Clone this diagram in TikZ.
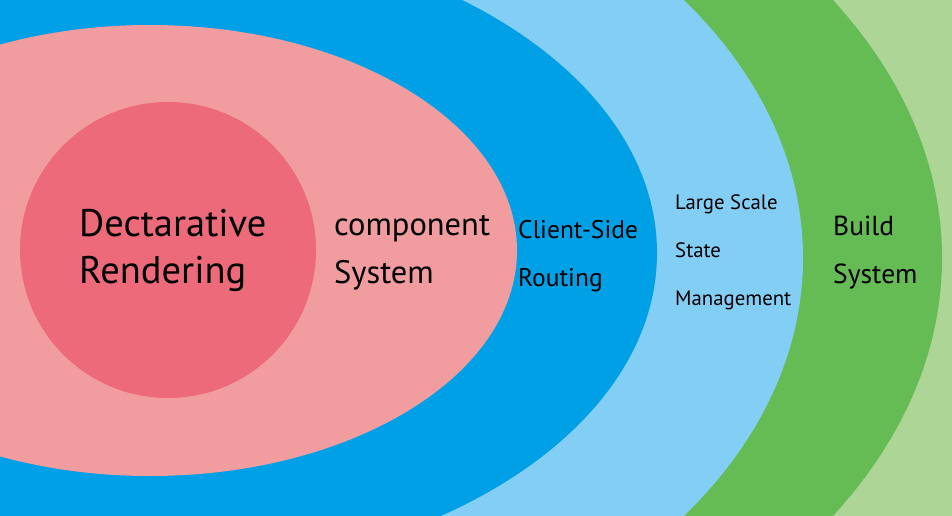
\documentclass[tikz,border=0pt]{standalone}
\usepackage{fontspec}
\setmainfont{PT Sans}
\definecolor{lgreen}{RGB}{173,213,150}
\definecolor{dgreen}{RGB}{101,187,84}
\definecolor{lblue}{RGB}{130,206,245}
\definecolor{dblue}{RGB}{0,160,230}
\definecolor{lpink}{RGB}{241,156,159}
\definecolor{dred}{RGB}{236,106,122}
\begin{document}
\begin{tikzpicture}[x=1pt,y=-1pt,
  lbl/.style={inner sep=0pt,anchor=base west,text=black},
  big/.style={lbl,font=\fontsize{38.5}{38.5}\selectfont},
  mid/.style={lbl,font=\fontsize{32.5}{32.5}\selectfont},
  sm/.style={lbl,font=\fontsize{25.5}{25.5}\selectfont},
  bld/.style={lbl,font=\fontsize{27.5}{27.5}\selectfont},
  tiny/.style={lbl,font=\fontsize{20.8}{20.8}\selectfont}]
\useasboundingbox (0,0) rectangle (952,516);
\clip (0,0) rectangle (952,516);
\fill[lgreen] (0,0) rectangle (952,516);
\fill[dgreen] (150,258) ellipse [x radius=792pt, y radius=509pt];
\fill[lblue] (150,258) ellipse [x radius=653pt, y radius=448pt];
\fill[dblue] (150,253) ellipse [x radius=507pt, y radius=321pt];
\fill[lpink] (150,250.5) ellipse [x radius=367pt, y radius=225.5pt];
\fill[dred] (168,250) circle [radius=148pt];
\node[big] (d1) at (79,236) {Dectarative};
\node[big] (d2) at (79,283) {Rendering};
\node[mid] (c1) at (334,235) {component};
\node[mid] (c2) at (334,283) {System};
\node[sm] (r1) at (518,238) {Client-Side};
\node[sm] (r2) at (518,286) {Routing};
\node[tiny] (s1) at (675,209) {Large Scale};
\node[tiny] (s2) at (675,257) {State};
\node[tiny] (s3) at (675,305) {Management};
\node[bld] (b1) at (833,235) {Build};
\node[bld] (b2) at (833,283) {System};
\end{tikzpicture}
\end{document}
